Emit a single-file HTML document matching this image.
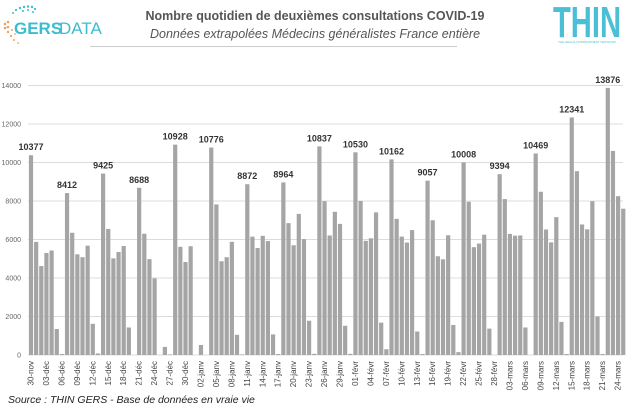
<!DOCTYPE html>
<html><head><meta charset="utf-8"><style>
html,body{margin:0;padding:0;background:#fff;width:629px;height:410px;overflow:hidden}
svg{display:block;font-family:"Liberation Sans",sans-serif}
</style></head><body>
<svg id="c" width="629" height="410" viewBox="0 0 629 410" xmlns="http://www.w3.org/2000/svg">
<g fill="#3bbdd0">
<circle cx="20" cy="8" r="1.2"/><circle cx="24" cy="7" r="1.2"/><circle cx="28" cy="6.5" r="1.2"/><circle cx="32" cy="7" r="1.2"/><circle cx="16" cy="10" r="1.1"/><circle cx="35" cy="9" r="1.1"/><circle cx="13" cy="13" r="1"/><circle cx="23" cy="11" r="1"/><circle cx="28" cy="10" r="1"/><circle cx="33" cy="12" r="1"/>
</g>
<g fill="#f0a060">
<circle cx="5" cy="24" r="1.3"/><circle cx="8" cy="22" r="1.3"/><circle cx="5" cy="28" r="1.3"/><circle cx="8" cy="27" r="1.3"/><circle cx="8" cy="32" r="1.2"/><circle cx="11" cy="36" r="1.1"/><circle cx="14" cy="40" r="1"/><circle cx="18" cy="43" r="0.9"/><circle cx="12" cy="30" r="1"/><circle cx="15" cy="34" r="0.9"/>
</g>
<text x="14" y="34" font-size="17" fill="#3bbdd0" font-weight="bold">GERS</text><text x="59" y="34" font-size="17" fill="#3bbdd0">DATA</text>
<text x="315" y="20" font-size="12.5" font-weight="bold" fill="#555" text-anchor="middle">Nombre quotidien de deuxièmes consultations COVID-19</text>
<text x="315" y="38" font-size="12.5" font-style="italic" fill="#555" text-anchor="middle">Données extrapolées Médecins généralistes France entière</text>
<line x1="90" y1="46.5" x2="457" y2="46.5" stroke="#ccc" stroke-width="1"/>
<text x="587" y="37" font-size="44" font-weight="bold" fill="#4bbfd6" text-anchor="middle" textLength="68" lengthAdjust="spacingAndGlyphs">THIN</text>
<text x="587" y="43" font-size="3" fill="#4bbfd6" text-anchor="middle">THE HEALTH IMPROVEMENT NETWORK</text>
<text x="8" y="403" font-size="10.5" font-style="italic" fill="#222">Source : THIN GERS - Base de données en vraie vie</text>
<g id="g"></g>
</svg>
<script>
var v=[10377,5875,4620,5300,5430,1350,50, 8412,6350,5230,5080,5680,1620,80, 9425,6550,5020,5350,5660,1430,0,
8688,6300,4980,3980,0,420,30, 10928,5620,4830,5650,0,520,0, 10776,7820,4870,5080,5880,1050,30,
8872,6150,5560,6190,5920,1070,50, 8964,6850,5700,7330,6020,1780,60, 10837,7990,6210,7440,6810,1520,60,
10530,8000,5930,6060,7410,1680,300, 10162,7070,6150,5840,6490,1220,50, 9057,7000,5130,4970,6220,1560,150,
10008,7960,5600,5790,6250,1370,0, 9394,8100,6290,6200,6210,1430,0, 10469,8480,6520,5850,7160,1720,50,
12341,9550,6780,6530,7990,2000,50, 13876,10600,8250,7600];
var g=document.getElementById('g'),s='';
var y0=355,k=38.5/2000,x0=31,dx=5.15;
for(var t=0;t<=14000;t+=2000){var y=y0-t*k;
 s+='<line x1="28" x2="623" y1="'+y+'" y2="'+y+'" stroke="#dcdcdc" stroke-width="1"/>';
 s+='<text x="21" y="'+(y+2.5)+'" font-size="7" fill="#666" text-anchor="end">'+t+'</text>';}
for(var i=0;i<v.length;i++){var x=x0+i*dx,h=v[i]*k;
 if(h>0)s+='<rect x="'+(x-2.1)+'" y="'+(y0-h)+'" width="4.2" height="'+h+'" fill="#a5a5a5"/>';
 if(i%7==0)s+='<text x="'+x+'" y="'+(y0-h-5)+'" font-size="9" font-weight="bold" fill="#333" text-anchor="middle">'+v[i]+'</text>';}
for(var i=0;i<=114;i+=3){var dd=new Date(2020,10,30+i);var day=dd.getDate(),mo=dd.getMonth();
 var name=mo==10?'nov':mo==11?'déc':mo==0?'janv':mo==1?'févr':'mars';
 var lab=(day<10?'0':'')+day+'-'+name;var x=x0+i*dx+2.5;
 s+='<text transform="translate('+x+',361) rotate(-90)" font-size="8" fill="#444" text-anchor="end">'+lab+'</text>';}
g.innerHTML=s;
</script>
</body></html>
